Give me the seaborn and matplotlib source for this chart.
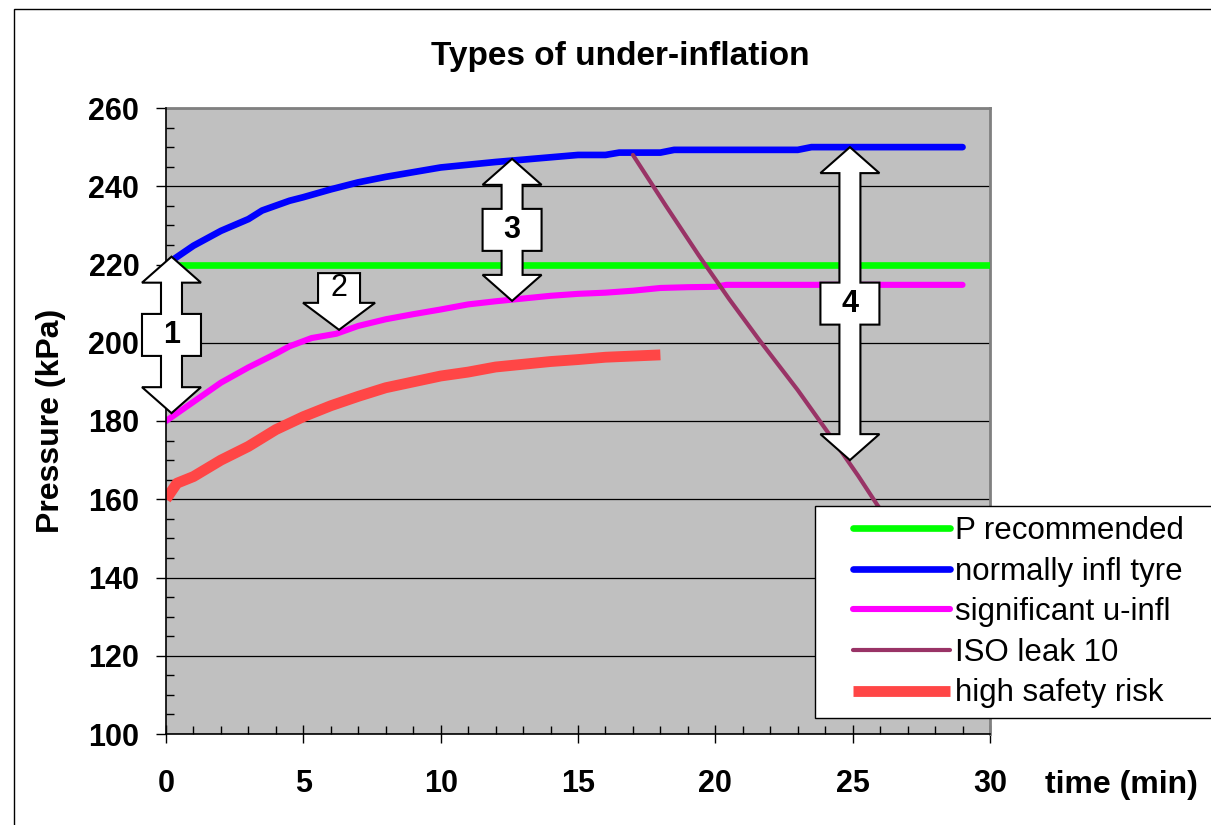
import numpy as np
import matplotlib
matplotlib.use("Agg")
import matplotlib.pyplot as plt
import seaborn as sns
from matplotlib.patches import Polygon, Rectangle
from matplotlib.ticker import MultipleLocator
from matplotlib.transforms import IdentityTransform

# --- Data ---
rec_t = [0, 30]
rec_p = [220, 220]

normal_t = [0, 1, 2, 3, 3.5, 4.5, 5, 6, 7, 8, 9, 10, 11, 12, 13, 14, 15, 16,
            16.5, 18, 18.5, 23, 23.5, 29]
normal_p = [220, 224.8, 228.6, 231.6, 233.8, 236.3, 237.2, 239.2, 241.0, 242.4,
            243.6, 244.8, 245.5, 246.2, 246.8, 247.4, 248.0, 248.0, 248.6, 248.6,
            249.3, 249.3, 250.0, 250.0]

signif_t = [0, 1, 2, 3, 4, 4.5, 5.3, 6.2, 7, 8, 9, 10, 11, 12, 13, 14, 15, 16,
            17, 18, 19, 20, 20.4, 29]
signif_p = [180, 184.9, 189.8, 193.7, 197.2, 199.1, 201.2, 202.3, 204.3, 206.0,
            207.3, 208.5, 209.8, 210.6, 211.3, 212.0, 212.5, 212.8, 213.3, 214.0,
            214.2, 214.3, 214.8, 214.8]

iso_t = [17.0, 18.2, 19.4, 20.5, 21.6, 23.0, 24.3, 25.2, 25.9, 26.8]
iso_p = [248.0, 235.0, 222.3, 211.2, 200.7, 187.9, 175.1, 166.0, 158.5, 150.0]

risk_t = [0, 0.4, 1, 2, 3, 4, 5, 6, 7, 8, 9, 10, 11, 12, 13, 14, 15, 16, 17, 18]
risk_p = [160, 164.1, 165.8, 170.0, 173.5, 177.8, 181.1, 183.9, 186.3, 188.5,
          190.0, 191.5, 192.5, 193.8, 194.5, 195.2, 195.7, 196.3, 196.6, 196.9]

# annotation arrows: (x, top, bottom, label, bold)
updown_arrows = [
    (0.2, 222.0, 182.0, "1", True),
    (12.6, 247.0, 210.7, "3", True),
    (24.9, 250.0, 170.0, "4", True),
]
# down arrow callout: (x, tip, box top, label)
down_arrow = (6.3, 203.3, 217.8, "2")

# --- Style ---
sns.set_theme(style="ticks")
plt.rcParams["font.family"] = ["Liberation Sans", "DejaVu Sans"]
plt.rcParams["text.color"] = "black"
plt.rcParams["axes.labelcolor"] = "black"
plt.rcParams["xtick.color"] = "black"
plt.rcParams["ytick.color"] = "black"

W, H = 1211, 825
fig = plt.figure(figsize=(W / 100, H / 100), dpi=100)
ax = fig.add_axes([166 / W, 1 - 734 / H, (990 - 166) / W, (734 - 108) / H])
ax.set_facecolor("#C0C0C0")

ax.set_xlim(0, 30)
ax.set_ylim(100, 260)

# --- Lines ---
sns.lineplot(x=rec_t, y=rec_p, ax=ax, color="#00FF00", linewidth=4.8,
             solid_capstyle="round", sort=False, label="P recommended", zorder=3)
sns.lineplot(x=normal_t, y=normal_p, ax=ax, color="#0000FF", linewidth=4.8,
             solid_capstyle="round", sort=False, label="normally infl tyre", zorder=3)
sns.lineplot(x=signif_t, y=signif_p, ax=ax, color="#FF00FF", linewidth=4.4,
             solid_capstyle="round", sort=False, label="significant u-infl", zorder=3)
sns.lineplot(x=iso_t, y=iso_p, ax=ax, color="#993366", linewidth=3.0,
             solid_capstyle="round", sort=False, label="ISO leak 10", zorder=3)
sns.lineplot(x=risk_t, y=risk_p, ax=ax, color="#FF4646", linewidth=7.8,
             solid_capstyle="butt", sort=False, label="high safety risk", zorder=3)

handles, labels = ax.get_legend_handles_labels()
ax.get_legend().remove()

# --- Axes, ticks, grid ---
ax.xaxis.set_major_locator(MultipleLocator(5))
ax.xaxis.set_minor_locator(MultipleLocator(1))
ax.yaxis.set_major_locator(MultipleLocator(20))
ax.yaxis.set_minor_locator(MultipleLocator(5))
ax.grid(False)
ax.yaxis.grid(True, which="major", color="black", linewidth=0.9)
ax.set_axisbelow(True)

ax.tick_params(axis="x", which="major", direction="inout", length=13, width=1,
               color="black", pad=19, labelsize=22)
ax.tick_params(axis="x", which="minor", direction="in", length=6, width=1, color="black")
ax.tick_params(axis="y", which="major", direction="out", length=7.2, width=1,
               color="black", pad=12, labelsize=22)
ax.tick_params(axis="y", which="minor", direction="in", length=5.5, width=1, color="black")
for lab in ax.get_xticklabels() + ax.get_yticklabels():
    lab.set_fontweight("bold")

for side in ["left", "bottom"]:
    ax.spines[side].set_color("black")
    ax.spines[side].set_linewidth(1.2)
    ax.spines[side].set_zorder(4)
for side in ["top", "right"]:
    ax.spines[side].set_color("#808080")
    ax.spines[side].set_linewidth(2)

ax.set_xlabel("")
ax.set_ylabel("Pressure (kPa)", fontsize=23, fontweight="bold", va="center")
ax.yaxis.set_label_coords((51.5 - 166) / (990 - 166), (734 - 421) / (734 - 108))

fig.text(620 / W, 1 - 56 / H, "Types of under-inflation", ha="center", va="center",
         fontsize=24, fontweight="bold")
fig.text(1045 / W, 1 - 785 / H, "time (min)", ha="left", va="center",
         fontsize=23, fontweight="bold")


# --- Block arrows ---
def updown_arrow(x, top, bottom, label, bold, hw=29.5, sw=10.5, hl=26, bh=21):
    cx, ty = ax.transData.transform((x, top))
    _, by = ax.transData.transform((x, bottom))
    my = (ty + by) / 2
    pts = [(0, ty), (hw, ty - hl), (sw, ty - hl), (sw, my + bh), (hw, my + bh),
           (hw, my - bh), (sw, my - bh), (sw, by + hl), (hw, by + hl), (0, by),
           (-hw, by + hl), (-sw, by + hl), (-sw, my - bh), (-hw, my - bh),
           (-hw, my + bh), (-sw, my + bh), (-sw, ty - hl), (-hw, ty - hl)]
    pts = [(cx + dx, yy) for dx, yy in pts]
    ax.add_patch(Polygon(pts, closed=True, facecolor="white", edgecolor="black",
                         linewidth=1.5, transform=IdentityTransform(),
                         clip_on=False, zorder=6))
    lx, ly = ax.transData.inverted().transform((cx, my))
    ax.text(lx, ly, label, ha="center", va="center", fontsize=22,
            fontweight="bold" if bold else "normal", zorder=7)


def down_callout(x, tip, boxtop, label, bw=21, hw=36, hl=27):
    cx, tyy = ax.transData.transform((x, tip))
    _, bt = ax.transData.transform((x, boxtop))
    bb = tyy + hl
    pts = [(-bw, bt), (bw, bt), (bw, bb), (hw, bb), (0, tyy), (-hw, bb), (-bw, bb)]
    pts = [(cx + dx, yy) for dx, yy in pts]
    ax.add_patch(Polygon(pts, closed=True, facecolor="white", edgecolor="black",
                         linewidth=1.5, transform=IdentityTransform(),
                         clip_on=False, zorder=6))
    lx, ly = ax.transData.inverted().transform((cx, (bt + bb) / 2))
    ax.text(lx, ly, label, ha="center", va="center", fontsize=22, zorder=7)


for x, top, bottom, label, bold in updown_arrows:
    updown_arrow(x, top, bottom, label, bold)
down_callout(*down_arrow)

# --- Legend with its own frame ---
fig.add_artist(Rectangle((815 / W, 1 - 718 / H), 0.5, (718 - 506) / H,
                         transform=fig.transFigure, facecolor="white",
                         edgecolor="black", linewidth=1, zorder=2))
leg = fig.legend(handles, labels, loc="upper left",
                 bbox_to_anchor=(853 / W, 1 - 516 / H), bbox_transform=fig.transFigure,
                 frameon=False, fontsize=22.5, handlelength=3.1, handletextpad=0.16,
                 labelspacing=0.34, borderpad=0, borderaxespad=0)
leg.set_zorder(3)

# outer chart border
fig.add_artist(Rectangle((14 / W, -1), 5, 1 - 9 / H + 1, transform=fig.transFigure,
                         facecolor="none", edgecolor="black", linewidth=1, zorder=5))

fig.savefig("out.png", dpi=100)
